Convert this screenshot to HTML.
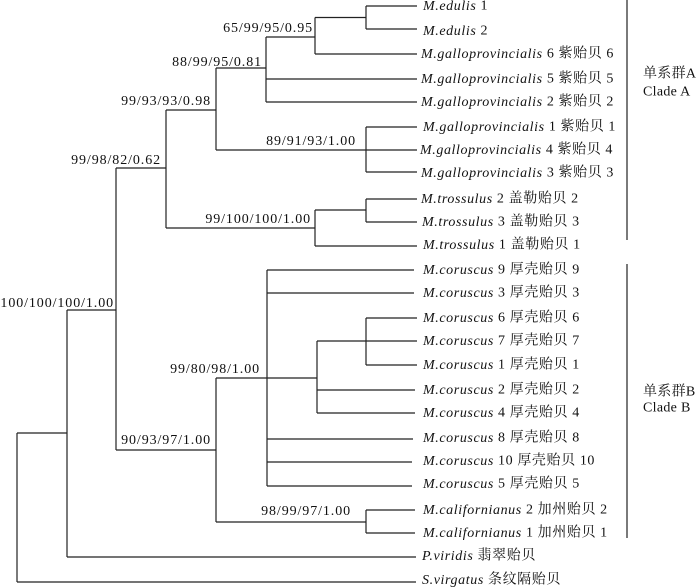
<!DOCTYPE html>
<html><head><meta charset="utf-8"><style>
html,body{margin:0;padding:0;background:#fff;}
svg{display:block;}
text{font-family:"Liberation Serif","Noto Serif CJK SC",serif;font-size:14px;fill:#111;letter-spacing:0.6px;}
.t{dominant-baseline:central;}
.s text{font-size:14px;letter-spacing:0.9px;}
.c{letter-spacing:0.3px;}
</style></head><body>
<svg width="700" height="588" viewBox="0 0 700 588">
<g stroke="#222" stroke-width="1.2" fill="none">
<path d="M366 6H417M366 29H417M366 6V29"/>
<path d="M315 17.5H366M315 54H417M315 17.5V54"/>
<path d="M266 37H315M266 79H417M266 102H417M266 37V102"/>
<path d="M366 127H417M366 150H417M366 172H417M366 127V172"/>
<path d="M216 68H266M216 150H366M216 68V150"/>
<path d="M366 199H417M366 222H417M366 199V222"/>
<path d="M315 210H366M315 246H417M315 210V246"/>
<path d="M166 110H216M166 228H315M166 110V228"/>
<path d="M267 270H414M267 293H414M267 439H413M267 462H412M267 486H412M267 270V486"/>
<path d="M366 318H417M366 341H417M366 365H417M366 318V365"/>
<path d="M317 341H366M317 390H415M317 413H415M317 341V413"/>
<path d="M216 378H317"/>
<path d="M366 510H415M366 533H415M366 510V533"/>
<path d="M216 378V522M216 522H366"/>
<path d="M116 168H166M116 450H216M116 168V450"/>
<path d="M67 310H116M67 557H416M67 310V557"/>
<path d="M17 433H67M17 582H416M17 433V582"/>
<path d="M627 0V240M627 264V538"/>
</g>
<g class="s">
<text x="313" y="32" text-anchor="end">65/99/95/0.95</text>
<text x="262" y="66" text-anchor="end">88/99/95/0.81</text>
<text x="211" y="105" text-anchor="end">99/93/93/0.98</text>
<text x="161" y="164" text-anchor="end">99/98/82/0.62</text>
<text x="356" y="145" text-anchor="end">89/91/93/1.00</text>
<text x="311" y="223" text-anchor="end">99/100/100/1.00</text>
<text x="114" y="307" text-anchor="end">100/100/100/1.00</text>
<text x="260" y="373" text-anchor="end">99/80/98/1.00</text>
<text x="211" y="444" text-anchor="end">90/93/97/1.00</text>
<text x="351" y="515" text-anchor="end">98/99/97/1.00</text>
</g>
<g class="t">
<text x="423" y="6"><tspan font-style="italic">M.edulis</tspan> 1</text>
<text x="423" y="31"><tspan font-style="italic">M.edulis</tspan> 2</text>
<text x="421" y="54"><tspan font-style="italic">M.galloprovincialis</tspan> 6 紫贻贝 6</text>
<text x="421" y="79"><tspan font-style="italic">M.galloprovincialis</tspan> 5 紫贻贝 5</text>
<text x="421" y="102"><tspan font-style="italic">M.galloprovincialis</tspan> 2 紫贻贝 2</text>
<text x="423" y="127"><tspan font-style="italic">M.galloprovincialis</tspan> 1 紫贻贝 1</text>
<text x="420" y="150"><tspan font-style="italic">M.galloprovincialis</tspan> 4 紫贻贝 4</text>
<text x="421" y="173"><tspan font-style="italic">M.galloprovincialis</tspan> 3 紫贻贝 3</text>
<text x="421" y="199"><tspan font-style="italic">M.trossulus</tspan> 2 盖勒贻贝 2</text>
<text x="422" y="222"><tspan font-style="italic">M.trossulus</tspan> 3 盖勒贻贝 3</text>
<text x="423" y="245"><tspan font-style="italic">M.trossulus</tspan> 1 盖勒贻贝 1</text>
<text x="423" y="270"><tspan font-style="italic">M.coruscus</tspan> 9 厚壳贻贝 9</text>
<text x="423" y="293"><tspan font-style="italic">M.coruscus</tspan> 3 厚壳贻贝 3</text>
<text x="423" y="318"><tspan font-style="italic">M.coruscus</tspan> 6 厚壳贻贝 6</text>
<text x="423" y="341"><tspan font-style="italic">M.coruscus</tspan> 7 厚壳贻贝 7</text>
<text x="423" y="365"><tspan font-style="italic">M.coruscus</tspan> 1 厚壳贻贝 1</text>
<text x="423" y="390"><tspan font-style="italic">M.coruscus</tspan> 2 厚壳贻贝 2</text>
<text x="423" y="413"><tspan font-style="italic">M.coruscus</tspan> 4 厚壳贻贝 4</text>
<text x="423" y="438"><tspan font-style="italic">M.coruscus</tspan> 8 厚壳贻贝 8</text>
<text x="423" y="461"><tspan font-style="italic">M.coruscus</tspan> 10 厚壳贻贝 10</text>
<text x="423" y="484"><tspan font-style="italic">M.coruscus</tspan> 5 厚壳贻贝 5</text>
<text x="423" y="510"><tspan font-style="italic">M.californianus</tspan> 2 加州贻贝 2</text>
<text x="423" y="533"><tspan font-style="italic">M.californianus</tspan> 1 加州贻贝 1</text>
<text x="422" y="556"><tspan font-style="italic">P.viridis</tspan> 翡翠贻贝</text>
<text x="422" y="580"><tspan font-style="italic">S.virgatus</tspan>  条纹隔贻贝</text>
<text class="c" x="643" y="74">单系群A</text>
<text class="c" x="643" y="92">Clade A</text>
<text class="c" x="643" y="392">单系群B</text>
<text class="c" x="643" y="408">Clade B</text>
</g>
</svg>
</body></html>
